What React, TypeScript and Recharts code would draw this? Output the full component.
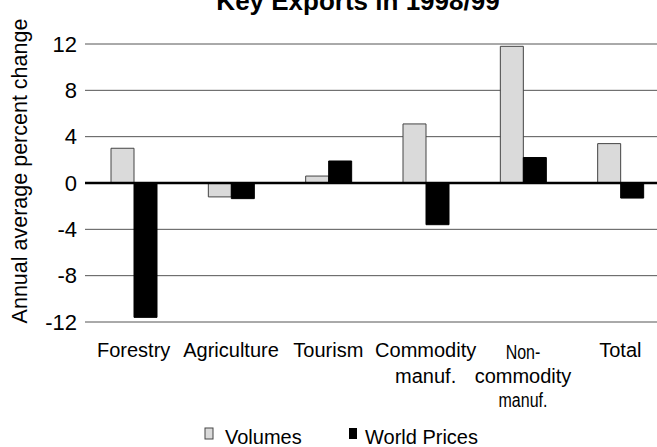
import { BarChart, Bar, XAxis, YAxis, CartesianGrid, ReferenceLine } from "recharts";

const categories = ["Forestry", "Agriculture", "Tourism", "Commodity manuf.", "Non-commodity manuf.", "Total"];
const categoryLines = [["Forestry"], ["Agriculture"], ["Tourism"], ["Commodity", "manuf."], ["Non-", "commodity", "manuf."], ["Total"]];
const volumes = [3.0, -1.2, 0.6, 5.1, 11.8, 3.4];
const worldPrices = [-11.6, -1.35, 1.9, -3.6, 2.2, -1.3];
const yTicks = [-12, -8, -4, 0, 4, 8, 12];

const data = categories.map((name, i) => ({ name, volumes: volumes[i], prices: worldPrices[i] }));

const FONT = "Liberation Sans, Arimo, Arial, sans-serif";

function CategoryTick(props: any) {
  const { x, y, index } = props;
  const lines = categoryLines[index] ?? [];
  // the three-line label squeezes its short lines horizontally
  const lineY = [27, 53, 77];
  return (
    <g transform={`translate(${x},${y})`}>
      {lines.map((line, li) => {
        const narrow = lines.length === 3 && li !== 1;
        return (
          <text
            key={li}
            x={0}
            y={lineY[li] + (narrow && li === 0 ? 2 : 0)}
            textAnchor="middle"
            fill="#000"
            transform={narrow ? "scale(0.8,1)" : undefined}
            style={{ fontSize: 20, fontFamily: FONT }}
          >
            {line}
          </text>
        );
      })}
    </g>
  );
}

export default function App() {
  return (
    <div style={{ position: "fixed", left: 0, top: 0, width: 657, height: 447, overflow: "hidden", background: "#fff", fontFamily: FONT }}>
      <BarChart
        width={680}
        height={447}
        data={data}
        margin={{ top: 44, right: 11, bottom: 0, left: 0 }}
        barGap={0}
        barSize={23}
        style={{ fontFamily: FONT }}
      >
        <CartesianGrid vertical={false} stroke="#555" strokeWidth={1} />
        <XAxis dataKey="name" axisLine={false} tickLine={false} height={125} interval={0} tick={<CategoryTick />} />
        <YAxis
          type="number"
          domain={[-12, 12]}
          ticks={yTicks}
          width={85}
          axisLine={false}
          tickLine={false}
          tick={{ fontSize: 22, fill: "#000", style: { fontFamily: FONT } }}
        />
        <Bar dataKey="volumes" fill="#dadada" stroke="#444" strokeWidth={1} isAnimationActive={false} />
        <Bar dataKey="prices" fill="#000" stroke="#000" strokeWidth={1} isAnimationActive={false} />
        <ReferenceLine y={0} stroke="#000" strokeWidth={2.5} />

        <text x={358} y={10} textAnchor="middle" fill="#000" style={{ fontSize: 26, fontWeight: "bold", fontFamily: FONT }}>
          Key Exports in 1998/99
        </text>
        <text x={27} y={171} transform="rotate(-90, 27, 171)" textAnchor="middle" fill="#000" style={{ fontSize: 21.5, fontFamily: FONT }}>
          Annual average percent change
        </text>

        <rect x={205} y={428} width={8} height={11} fill="#dadada" stroke="#444" strokeWidth={1} />
        <text x={225} y={444} fill="#000" style={{ fontSize: 20, fontFamily: FONT }}>Volumes</text>
        <rect x={349} y={428} width={8} height={11} fill="#000" />
        <text x={365} y={444} fill="#000" style={{ fontSize: 20, fontFamily: FONT }}>World Prices</text>
      </BarChart>
    </div>
  );
}
